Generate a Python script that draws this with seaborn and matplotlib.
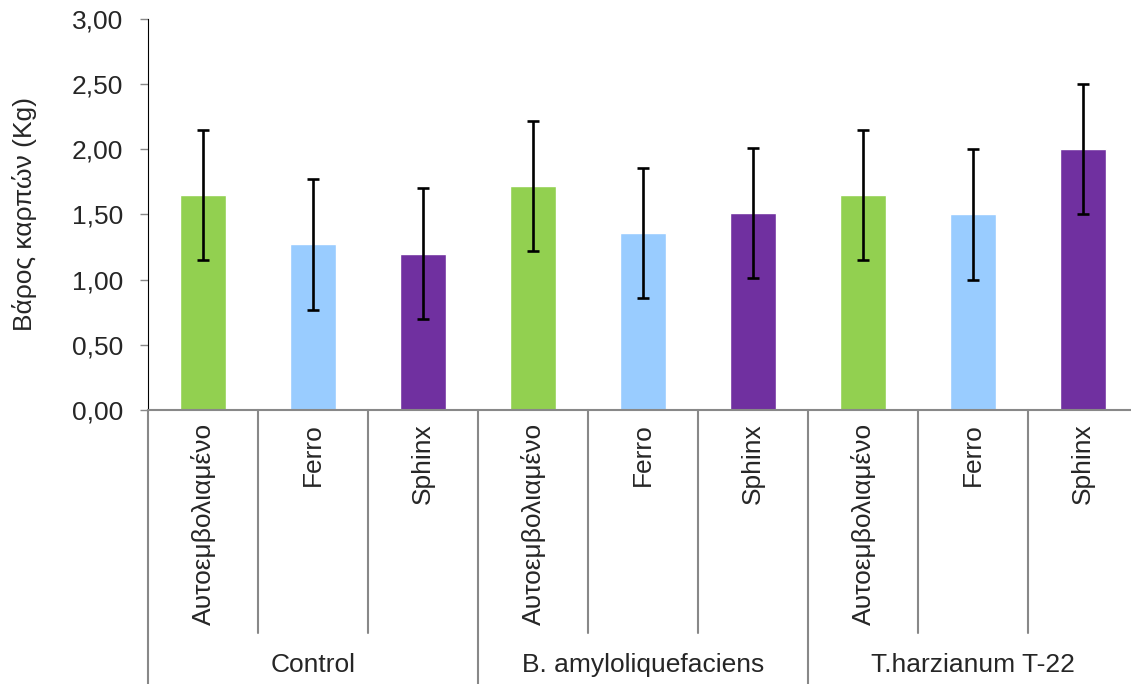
import numpy as np
import pandas as pd
import matplotlib
matplotlib.use('Agg')
import matplotlib.pyplot as plt
import seaborn as sns

# data
groups = ['Control', 'B. amyloliquefaciens', 'T.harzianum T-22']
varieties = ['Αυτοεμβολιαμένο', 'Ferro', 'Sphinx']
weights = [1.65, 1.27, 1.20, 1.72, 1.36, 1.51, 1.65, 1.50, 2.00]
errors = [0.50, 0.50, 0.50, 0.50, 0.50, 0.50, 0.50, 0.50, 0.50]
colors = ['#92D050', '#99CCFF', '#7030A0']

sns.set_style('white')
plt.rcParams['font.family'] = ['Liberation Sans', 'DejaVu Sans']
FS = 19

df = pd.DataFrame({
    'pos': [f'{g}|{v}' for g in groups for v in varieties],
    'variety': [v for g in groups for v in varieties],
    'weight': weights,
})

fig = plt.figure(figsize=(11.31, 6.84), dpi=100)
ax = fig.add_axes([148 / 1131, (684 - 410) / 684, 990 / 1131, 391 / 684])

sns.barplot(data=df, x='pos', y='weight', hue='variety', palette=colors,
            dodge=False, width=0.41, legend=False, ax=ax, saturation=1)
x = np.arange(len(weights))
ax.errorbar(x, weights, yerr=errors, fmt='none', ecolor='black',
            elinewidth=1.9, capsize=4.5, capthick=1.9, zorder=5)

ax.set_xlim(-0.5, len(weights) - 0.5)
ax.set_ylim(0, 3)
ax.set_yticks(np.arange(0, 3.01, 0.5))
ax.set_yticklabels([f'{t:.2f}'.replace('.', ',') for t in np.arange(0, 3.01, 0.5)],
                   fontsize=FS)
ax.tick_params(axis='y', length=6, width=1, color='#888888', direction='out',
               left=True, pad=12)
ax.set_xticks([])
ax.set_xlabel('')
ax.set_ylabel('Βάρος καρπών (Kg)', fontsize=FS, labelpad=25)
for s in ['top', 'right']:
    ax.spines[s].set_visible(False)
ax.spines['left'].set_color('black')
ax.spines['bottom'].set_color('#888888')
ax.spines['bottom'].set_linewidth(1.5)

# hierarchical category axis
tr = ax.get_xaxis_transform()
y_inner = -(633 - 410) / 391
y_outer = -(684 - 410) / 391
for i in range(len(weights) + 1):
    xb = i - 0.5
    y_end = y_outer if i % 3 == 0 else y_inner
    ax.plot([xb, xb], [0, y_end], transform=tr, color='#888888', lw=1.5,
            clip_on=False)
for i, v in enumerate(df['variety']):
    ax.text(i, -13 / 391, v, transform=tr, rotation=90, ha='center', va='top',
            fontsize=FS)
for j, g in enumerate(groups):
    ax.text(3 * j + 1, -(665 - 410) / 391, g, transform=tr, ha='center',
            va='center', fontsize=FS)

fig.savefig('out.png', dpi=100)
